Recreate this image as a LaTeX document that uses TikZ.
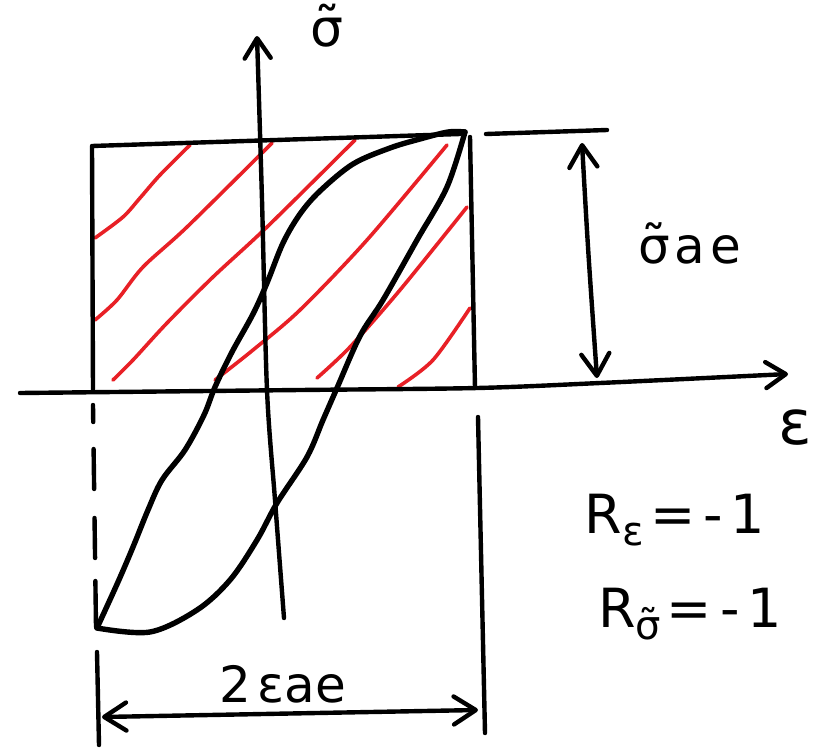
\documentclass[tikz,border=0pt]{standalone}
\usepackage{fontspec}
\setmainfont{DejaVu Sans}
\usetikzlibrary{arrows.meta}
\definecolor{hatchred}{RGB}{232,32,38}
\newcommand{\tsig}{\ooalign{σ\cr\hfil\raisebox{0.04em}{˜}\hfil\cr}}
\begin{document}
\begin{tikzpicture}[x=1pt,y=-1pt,
  ink/.style={line width=4.4pt,line cap=round,line join=round},
  loopline/.style={line width=5.4pt,line cap=round,line join=round},
  hatchline/.style={hatchred,line width=3.6pt,line cap=round,line join=round},
  barb/.style={-{Straight Barb[length=20pt,width=26pt,round]}},
  dbarb/.style={{Straight Barb[length=22pt,width=28pt,round]}-{Straight Barb[length=22pt,width=28pt,round]}},
  lab/.style={inner sep=0pt,anchor=center}
]
\useasboundingbox (0,0) rectangle (822,755);

% key points
\coordinate (ea0) at (20,393);
\coordinate (ea1) at (788,374);
\coordinate (sa0) at (284,618);
\coordinate (sa1) at (257,36);
\coordinate (lo) at (97,628);
\coordinate (hi) at (465,132);
\coordinate (rtl) at (92,146);
\coordinate (rtr) at (460,134);
\coordinate (rbl) at (93,390);
\coordinate (rrt) at (470,137);
\coordinate (rrb) at (475,388);
\coordinate (ext0) at (486,134);
\coordinate (ext1) at (607,130);
\coordinate (va0) at (582,143);
\coordinate (va1) at (597,378);
\coordinate (ha0) at (102,717);
\coordinate (ha1) at (478,710);
\coordinate (dl0) at (93,405);
\coordinate (dl1) at (96,627);
\coordinate (sl0) at (97,652);
\coordinate (sl1) at (99,745);
\coordinate (rl0) at (478,417);
\coordinate (rl1) at (485,733);

% red hatching
\draw[hatchline] plot[smooth] coordinates {(95,238) (123,217) (140,198) (160,175) (190,145)};
\draw[hatchline] plot[smooth] coordinates {(95,320) (117,300) (143,267) (187,227) (272,143)};
\draw[hatchline] plot[smooth] coordinates {(113,380) (133,360) (167,323) (213,277) (267,227) (355,140)};
\draw[hatchline] plot[smooth] coordinates {(215,380) (253,350) (300,310) (367,240) (447,145)};
\draw[hatchline] plot[smooth] coordinates {(317,378) (350,347) (400,290) (467,207)};
\draw[hatchline] plot[smooth] coordinates {(398,387) (433,360) (470,308)};

% rectangle (hand drawn)
\draw[ink] (rtr) -- (rtl) -- (rbl);
\draw[ink] (rrt) -- (rrb);
\draw[ink] (ext0) -- (ext1);

% axes
\draw[ink,barb] plot[smooth] coordinates {(ea0) (300,390) (477,388) (600,383) (ea1)};
\draw[ink,barb] plot[smooth] coordinates {(sa0) (275,500) (267,390) (262,200) (sa1)};

% hysteresis loop
\draw[loopline] plot[smooth,tension=0.55] coordinates {(lo) (118,582) (133,547) (148,510) (162,480) (185,450) (204,415) (215,387) (232,352) (253,314) (267,283) (283,243) (300,214) (320,191) (353,164) (390,148) (420,139) (448,132) (hi)};
\draw[loopline] plot[smooth,tension=0.55] coordinates {(hi) (447,187) (417,240) (383,300) (360,336) (337,388) (323,420) (307,457) (277,503) (257,540) (230,580) (197,610) (150,632) (lo)};

% extension lines
\draw[ink,dash pattern=on 17pt off 27pt on 40pt off 29pt on 40pt off 23pt on 60pt off 10pt] (dl0) -- (dl1);
\draw[ink] (sl0) -- (sl1);
\draw[ink] (rl0) -- (rl1);

% dimension arrows
\draw[ink,dbarb] (va0) .. controls (588,250) .. (va1);
\draw[ink,dbarb] (ha0) -- (ha1);

% labels
\node[lab,font=\fontsize{52}{58}\selectfont] (sig) at (327,32) {\tsig};
\node[lab,font=\fontsize{62}{68}\selectfont] (eps) at (795,428) {ε};
\node[lab,font=\fontsize{50}{56}\selectfont] (sae) at (690,250) {\tsig\kern4pt a\kern6pt e};
\node[lab,font=\fontsize{50}{56}\selectfont] (eae) at (283,684) {2\kern6pt εae};
\node[lab,font=\fontsize{54}{60}\selectfont] (re) at (675,520) {R\raisebox{-0.22em}{\fontsize{40}{44}\selectfont ε}\kern6pt=\kern8pt-\kern8pt1};
\node[lab,font=\fontsize{54}{60}\selectfont] (rs) at (690,614) {R\raisebox{-0.22em}{\fontsize{40}{44}\selectfont \tsig}\kern6pt=\kern8pt-\kern8pt1};
\end{tikzpicture}
\end{document}
